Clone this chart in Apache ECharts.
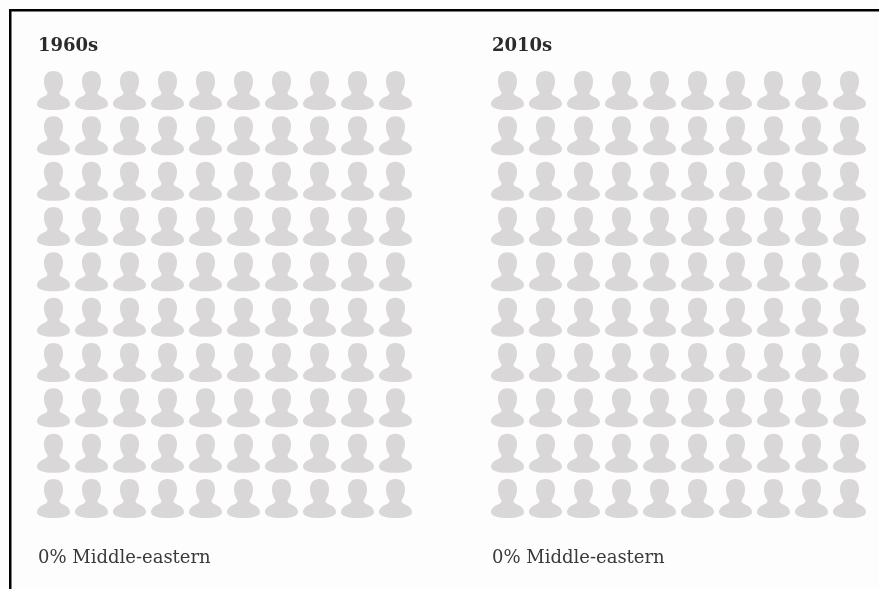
<!DOCTYPE html>
<html><head><meta charset="utf-8">
<style>html,body{margin:0;padding:0;background:#fff}#c{width:879px;height:589px}</style>
<script src="https://cdn.jsdelivr.net/npm/echarts@6/dist/echarts.min.js"></script>
</head><body><div id="c"></div>
<script>
const decades = ['1960s', '2010s'];
const middleEasternPct = [0, 0];
const columns = [0,1,2,3,4,5,6,7,8,9];
const rows = [0,1,2,3,4,5,6,7,8,9];
const captionSuffix = '% Middle-eastern';
const personPath = 'path://M16.5 0C22.5 0 26 4 26 10C26 14.5 24.8 18 23 20.5C22 22.3 22.5 23.8 25 25C30 26.8 33 29.5 33 33C33 37 26 39 16.5 39C7 39 0 37 0 33C0 29.5 3 26.8 8 25C10.5 23.8 11 22.3 10 20.5C8.2 18 7 14.5 7 10C7 4 10.5 0 16.5 0Z';

const gridLefts = [53.5, 507.5];
const chart = echarts.init(document.getElementById('c'), null, {renderer:'canvas'});
const serif = '"DejaVu Serif"';
const points = [];
rows.forEach(r => columns.forEach(c => points.push([c, r])));
chart.setOption({
  animation:false,
  backgroundColor:'#fdfdfd',
  title: decades.map((d,i)=>({
    text:d, left:gridLefts[i]-15.5, top:37, padding:0,
    textStyle:{fontFamily:serif,fontWeight:'bold',fontSize:18,color:'#2b2b2b'}
  })).concat(decades.map((d,i)=>({
    text:middleEasternPct[i]+captionSuffix, left:gridLefts[i]-15.5, top:549, padding:0,
    textStyle:{fontFamily:serif,fontWeight:'normal',fontSize:18,color:'#3a3a3a'}
  }))),
  grid: decades.map((d,i)=>({left:gridLefts[i], width:342, top:90.5, height:408})),
  xAxis: decades.map((d,i)=>({type:'value',gridIndex:i,min:0,max:9,show:false})),
  yAxis: decades.map((d,i)=>({type:'value',gridIndex:i,min:0,max:9,inverse:true,show:false})),
  series: decades.map((d,i)=>({
    type:'scatter',name:d,xAxisIndex:i,yAxisIndex:i,
    symbol:personPath,symbolSize:[33,39],
    itemStyle:{color:'#dad7d9',opacity:1},
    silent:true,
    data:points
  })),
  graphic:[
    {type:'rect',shape:{x:9,y:9,width:870,height:2.5},style:{fill:'#000'}},
    {type:'rect',shape:{x:9,y:9,width:2.5,height:580},style:{fill:'#000'}}
  ]
});
</script></body></html>
